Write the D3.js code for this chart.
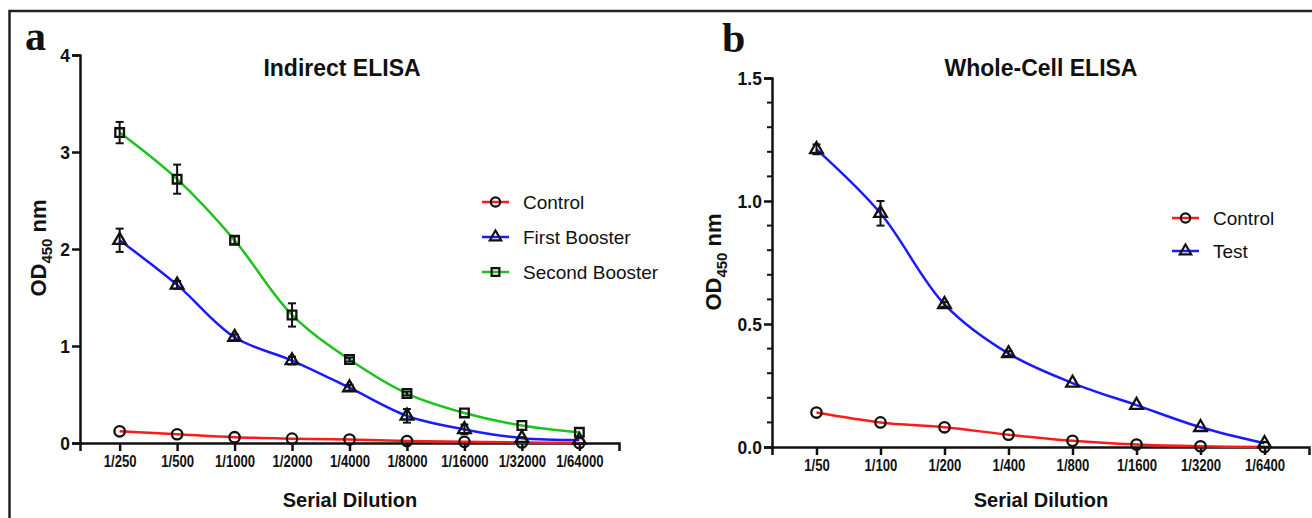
<!DOCTYPE html>
<html lang="en">
<head>
    <meta charset="UTF-8">
    <title>ELISA</title>
    <script src="https://d3js.org/d3.v7.min.js"></script>
    <style>
        body { margin: 0; background: #fff; }
        svg { display: block; font-family: "Liberation Sans", Arial, sans-serif; }
        .tick text { font-weight: bold; fill: #111; }
    </style>
</head>
<body>
<svg width="1312" height="518"></svg>
<script>
    // panel a: indirect ELISA
    var dilutionsA = ["1/250", "1/500", "1/1000", "1/2000", "1/4000", "1/8000", "1/16000", "1/32000", "1/64000"];
    var controlA = [0.12, 0.09, 0.06, 0.045, 0.035, 0.02, 0.012, 0.006, 0.0];
    var firstBooster = [2.09, 1.63, 1.09, 0.85, 0.57, 0.28, 0.14, 0.05, 0.03];
    var firstBoosterErr = [0.12, 0.04, 0.03, 0.04, 0.03, 0.07, 0.05, 0.0, 0.0];
    var secondBooster = [3.2, 2.72, 2.09, 1.32, 0.86, 0.51, 0.31, 0.18, 0.11];
    var secondBoosterErr = [0.11, 0.15, 0.04, 0.12, 0.02, 0.02, 0.0, 0.0, 0.0];
    var ticksA = [0, 1, 2, 3, 4];

    // panel b: whole-cell ELISA
    var dilutionsB = ["1/50", "1/100", "1/200", "1/400", "1/800", "1/1600", "1/3200", "1/6400"];
    var controlB = [0.14, 0.10, 0.08, 0.05, 0.025, 0.01, 0.003, 0.0];
    var testB = [1.21, 0.95, 0.58, 0.38, 0.26, 0.17, 0.08, 0.015];
    var testBErr = [0.02, 0.05, 0.01, 0.01, 0.0, 0.0, 0.0, 0.0];
    var ticksB = [0, 0.5, 1.0, 1.5];
    var minorTicksB = [0.1, 0.2, 0.3, 0.4, 0.6, 0.7, 0.8, 0.9, 1.1, 1.2, 1.3, 1.4];

    var RED = "#ff1a1a", BLUE = "#1a1aff", GREEN = "#1ec21e";

    var svg = d3.select("svg");
    svg.append("rect").attr("width", 1312).attr("height", 518).attr("fill", "#fff");

    // frame
    svg.append("path")
        .attr("d", "M9.5,518 V11 H1312")
        .attr("fill", "none").attr("stroke", "#222").attr("stroke-width", 2.5);

    function panel(cfg) {
        var g = svg.append("g");
        var x = d3.scalePoint().domain(cfg.cats).range(cfg.xRange).padding(cfg.pad);
        var y = d3.scaleLinear().domain(cfg.yDomain).range(cfg.yRange);

        // minor ticks
        if (cfg.minor) {
            g.selectAll(".minor").data(cfg.minor).enter().append("line")
                .attr("x1", cfg.xRange[0] - 5).attr("x2", cfg.xRange[0])
                .attr("y1", function (d) { return y(d); })
                .attr("y2", function (d) { return y(d); })
                .attr("stroke", "#111").attr("stroke-width", 2);
        }

        var yAxis = g.append("g")
            .attr("transform", "translate(" + cfg.xRange[0] + ",0)")
            .call(d3.axisLeft(y).tickValues(cfg.yTicks).tickFormat(cfg.fmt).tickSizeOuter(0).tickSize(8).tickPadding(3));
        yAxis.selectAll("text").style("font-size", "19px").attr("transform", "scale(0.92,1)");

        var xAxis = g.append("g")
            .attr("transform", "translate(0," + cfg.yRange[0] + ")")
            .call(d3.axisBottom(x).tickSizeOuter(0).tickSize(8).tickPadding(5));
        xAxis.selectAll("text").style("font-size", "16px").attr("transform", "scale(0.82,1)");

        g.selectAll(".domain, .tick line").attr("stroke", "#111").attr("stroke-width", 2.5);

        // series
        cfg.series.forEach(function (s) {
            var line = d3.line()
                .x(function (d, i) { return x(cfg.cats[i]); })
                .y(function (d) { return y(d); })
                .curve(d3.curveCatmullRom.alpha(0.5));
            g.append("path").datum(s.values)
                .attr("d", line)
                .attr("fill", "none").attr("stroke", s.color).attr("stroke-width", 2.5);
        });
        cfg.series.forEach(function (s) {
            if (s.err) {
                var eb = g.append("g").attr("stroke", "#111").attr("stroke-width", 2);
                s.values.forEach(function (v, i) {
                    var e = s.err[i];
                    if (!e) return;
                    var cx = x(cfg.cats[i]);
                    eb.append("line").attr("x1", cx).attr("x2", cx).attr("y1", y(v - e)).attr("y2", y(v + e));
                    eb.append("line").attr("x1", cx - 4).attr("x2", cx + 4).attr("y1", y(v - e)).attr("y2", y(v - e));
                    eb.append("line").attr("x1", cx - 4).attr("x2", cx + 4).attr("y1", y(v + e)).attr("y2", y(v + e));
                });
            }
            g.selectAll(null).data(s.values).enter().append("path")
                .attr("transform", function (d, i) { return "translate(" + x(cfg.cats[i]) + "," + y(d) + ")"; })
                .attr("d", d3.symbol().type(s.symbol).size(s.size))
                .attr("fill", "none").attr("stroke", "#111").attr("stroke-width", 2.3);
        });

        // titles
        g.append("text").attr("x", cfg.titleX).attr("y", 76)
            .attr("text-anchor", "middle").attr("font-weight", "bold").attr("font-size", 23)
            .attr("fill", "#111").text(cfg.title);

        g.append("text").attr("x", cfg.titleX + cfg.xTitleShift).attr("y", 507)
            .attr("text-anchor", "middle").attr("font-weight", "bold").attr("font-size", 20)
            .attr("fill", "#111").text("Serial Dilution");

        var yl = g.append("text")
            .attr("transform", "translate(" + cfg.yLabelX + "," + cfg.yLabelY + ") rotate(-90)")
            .attr("text-anchor", "middle").attr("font-weight", "bold").attr("font-size", 22)
            .attr("fill", "#111");
        yl.append("tspan").text("OD");
        yl.append("tspan").attr("font-size", 15).attr("dy", 6).text("450");
        yl.append("tspan").attr("dy", -6).text(" nm");

        g.append("text").attr("x", cfg.letterX).attr("y", cfg.letterY)
            .attr("font-family", "'Liberation Serif', 'Times New Roman', serif")
            .attr("font-weight", "bold").attr("font-size", 42).attr("fill", "#111").text(cfg.letter);

        // legend
        var lg = g.append("g");
        cfg.series.forEach(function (s, i) {
            var ly = cfg.legendY + i * cfg.legendStep;
            lg.append("line").attr("x1", cfg.legendX).attr("x2", cfg.legendX + 27)
                .attr("y1", ly).attr("y2", ly).attr("stroke", s.color).attr("stroke-width", 2.5);
            lg.append("path").attr("transform", "translate(" + (cfg.legendX + 13.5) + "," + ly + ")")
                .attr("d", d3.symbol().type(s.symbol).size(s.size * 0.8))
                .attr("fill", "none").attr("stroke", "#111").attr("stroke-width", 2.2);
            lg.append("text").attr("x", cfg.legendX + 41).attr("y", ly + 7)
                .attr("font-size", 19).attr("fill", "#111").text(s.name);
        });
    }

    panel({
        cats: dilutionsA, xRange: [80, 619], pad: 0.69,
        yDomain: [0, 4], yRange: [443, 55], yTicks: ticksA, fmt: d3.format("d"),
        title: "Indirect ELISA", titleX: 342, xTitleShift: 8,
        yLabelX: 46, yLabelY: 248, letter: "a", letterX: 25, letterY: 50,
        legendX: 482, legendY: 202, legendStep: 35,
        series: [
            { name: "Control", values: controlA, color: RED, symbol: d3.symbolCircle, size: 85 },
            { name: "First Booster", values: firstBooster, err: firstBoosterErr, color: BLUE, symbol: d3.symbolTriangle, size: 70 },
            { name: "Second Booster", values: secondBooster, err: secondBoosterErr, color: GREEN, symbol: d3.symbolSquare, size: 75 }
        ]
    });

    panel({
        cats: dilutionsB, xRange: [772, 1309], pad: 0.695,
        yDomain: [0, 1.5], yRange: [447, 78], yTicks: ticksB, fmt: d3.format(".1f"), minor: minorTicksB,
        title: "Whole-Cell ELISA", titleX: 1041, xTitleShift: 0,
        yLabelX: 721, yLabelY: 262, letter: "b", letterX: 722, letterY: 52,
        legendX: 1172, legendY: 218, legendStep: 33,
        series: [
            { name: "Control", values: controlB, color: RED, symbol: d3.symbolCircle, size: 85 },
            { name: "Test", values: testB, err: testBErr, color: BLUE, symbol: d3.symbolTriangle, size: 70 }
        ]
    });
</script>
</body>
</html>
